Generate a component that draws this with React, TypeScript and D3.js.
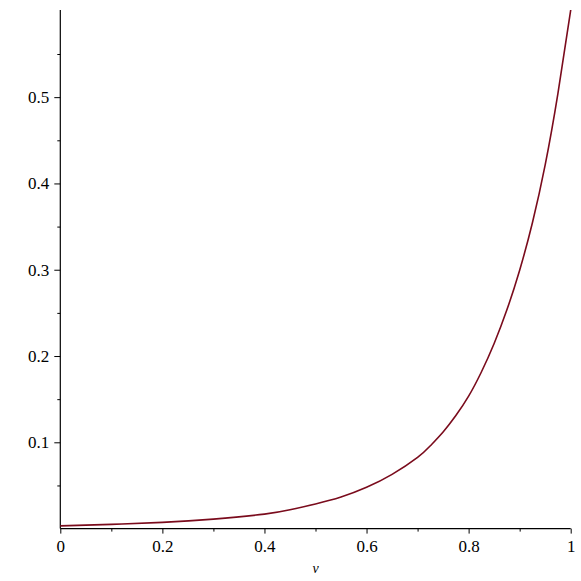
import React, { useEffect, useRef } from 'react';
import * as d3 from 'd3';

// readings taken off the reference curve
const vValues = [0, 0.1, 0.2, 0.3, 0.4, 0.45, 0.5, 0.55, 0.6, 0.65, 0.7, 0.725, 0.75, 0.775, 0.8, 0.825, 0.85, 0.875, 0.9, 0.925, 0.95, 0.975, 1.0];
const yValues = [0.0032, 0.0049, 0.0072, 0.011, 0.0168, 0.0218, 0.0285, 0.0365, 0.0478, 0.0628, 0.0825, 0.096, 0.112, 0.131, 0.1535, 0.1815, 0.2145, 0.2535, 0.2995, 0.3545, 0.4215, 0.5045, 0.601];

const xMajor = [0, 0.2, 0.4, 0.6, 0.8, 1];
const xMinor = [0.1, 0.3, 0.5, 0.7, 0.9];
const yMajor = [0.1, 0.2, 0.3, 0.4, 0.5];
const yMinor = [0.05, 0.15, 0.25, 0.35, 0.45, 0.55];
const xLabel = 'v';

const App = () => {
  const svgRef = useRef<SVGSVGElement>(null);

  useEffect(() => {
    const width = 581;
    const height = 581;
    const margin = { top: 10, right: 10.3, bottom: 52.4, left: 60.3 };

    const svg = d3.select(svgRef.current);
    svg.selectAll('*').remove();
    svg.attr('width', width).attr('height', height);

    const xScale = d3.scaleLinear()
      .domain([0, 1])
      .range([margin.left, width - margin.right]);

    const yScale = d3.scaleLinear()
      .domain([0, 0.601])
      .range([height - margin.bottom, margin.top]);

    const font = 'Liberation Serif, Tinos, Times New Roman, Times, serif';

    // x axis: major ticks with labels, then minor ticks
    const xAxis = svg.append('g')
      .attr('transform', `translate(0, ${yScale(0)})`)
      .call(d3.axisBottom(xScale).tickValues(xMajor).tickSize(5).tickPadding(6)
        .tickFormat(d => d3.format('')(+d)));
    svg.append('g')
      .attr('transform', `translate(0, ${yScale(0)})`)
      .call(d3.axisBottom(xScale).tickValues(xMinor).tickSize(3).tickFormat(() => ''))
      .select('.domain').remove();

    // y axis
    const yAxis = svg.append('g')
      .attr('transform', `translate(${xScale(0)}, 0)`)
      .call(d3.axisLeft(yScale).tickValues(yMajor).tickSize(6).tickPadding(5)
        .tickFormat(d => d3.format('.1f')(+d)));
    svg.append('g')
      .attr('transform', `translate(${xScale(0)}, 0)`)
      .call(d3.axisLeft(yScale).tickValues(yMinor).tickSize(3).tickFormat(() => ''))
      .select('.domain').remove();

    [xAxis, yAxis].forEach(ax => {
      ax.attr('font-family', font).attr('font-size', 17);
      ax.select('.domain').remove();
      ax.selectAll('text').attr('fill', '#000');
    });

    // axis lines
    svg.append('line')
      .attr('x1', xScale(0)).attr('x2', xScale(1))
      .attr('y1', yScale(0)).attr('y2', yScale(0))
      .attr('stroke', '#000').attr('stroke-width', 1.2);
    svg.append('line')
      .attr('x1', xScale(0)).attr('x2', xScale(0))
      .attr('y1', yScale(0)).attr('y2', yScale(0.601))
      .attr('stroke', '#000').attr('stroke-width', 1.2);

    svg.selectAll('.tick line').attr('stroke', '#000');

    // curve
    const points = vValues.map((v, i) => [v, yValues[i]] as [number, number]);
    const line = d3.line<[number, number]>()
      .x(d => xScale(d[0]))
      .y(d => yScale(d[1]))
      .curve(d3.curveNatural);

    svg.append('path')
      .datum(points)
      .attr('d', line)
      .attr('fill', 'none')
      .attr('stroke', '#7a0b1c')
      .attr('stroke-width', 1.6);

    // x axis label
    svg.append('text')
      .attr('x', xScale(0.5))
      .attr('y', 573)
      .attr('text-anchor', 'middle')
      .attr('font-family', font)
      .attr('font-style', 'italic')
      .attr('font-size', 14)
      .text(xLabel);
  }, []);

  return (
    <svg
      ref={svgRef}
      style={{ position: 'absolute', left: 0, top: 0, background: '#fff' }}
    ></svg>
  );
};

export default App;
